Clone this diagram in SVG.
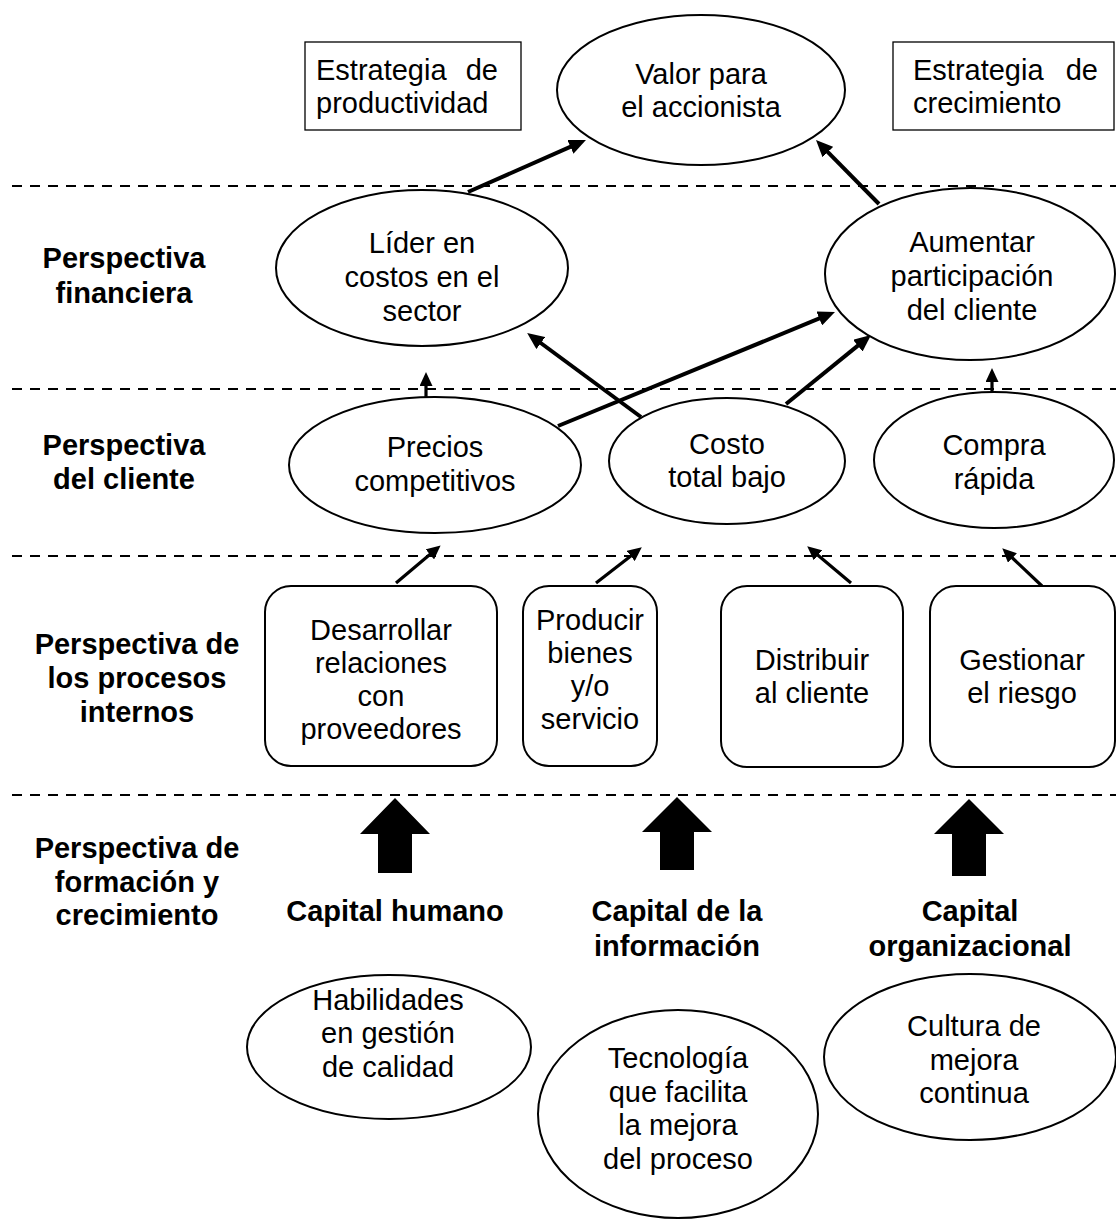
<svg xmlns="http://www.w3.org/2000/svg" width="1116" height="1220" viewBox="0 0 1116 1220">
<style>
text{font-family:"Liberation Sans",Arial,sans-serif;font-size:29px;fill:#000;text-anchor:middle}
.b{font-weight:bold}
.l{text-anchor:start}
.node{fill:#fff;stroke:#000;stroke-width:2}
.box{fill:#fff;stroke:#000;stroke-width:1.3}
.dash{stroke:#000;stroke-width:2.2;stroke-dasharray:10 8;fill:none}
.arr{stroke:#000;stroke-width:4;fill:none;marker-end:url(#ah)}
.sarr{stroke:#000;stroke-width:3.2;fill:none;marker-end:url(#sh)}
.blk{fill:#000;stroke:none}
</style>
<defs>
<marker id="ah" markerUnits="userSpaceOnUse" markerWidth="17" markerHeight="15" viewBox="0 0 17 15" refX="6" refY="7.5" orient="auto"><path d="M0,0 L17,7.5 L0,15 z" fill="#000"/></marker>
<marker id="sh" markerUnits="userSpaceOnUse" markerWidth="14" markerHeight="13" viewBox="0 0 14 13" refX="5" refY="6.5" orient="auto"><path d="M0,0 L14,6.5 L0,13 z" fill="#000"/></marker>
</defs>
<rect width="1116" height="1220" fill="#fff"/>
<g id="separators">
<line class="dash" x1="12" y1="186" x2="1116" y2="186"/>
<line class="dash" x1="12" y1="389" x2="1116" y2="389"/>
<line class="dash" x1="12" y1="556" x2="1116" y2="556"/>
<line class="dash" x1="12" y1="795" x2="1116" y2="795"/>
</g>
<g id="labels">
<text class="b" x="124" y="268">Perspectiva</text>
<text class="b" x="124" y="303">financiera</text>
<text class="b" x="124" y="455">Perspectiva</text>
<text class="b" x="124" y="489">del cliente</text>
<text class="b" x="137" y="654">Perspectiva de</text>
<text class="b" x="137" y="688">los procesos</text>
<text class="b" x="137" y="722">internos</text>
<text class="b" x="137" y="858">Perspectiva de</text>
<text class="b" x="137" y="892">formación y</text>
<text class="b" x="137" y="925">crecimiento</text>
</g>
<g id="connectors">
<line class="arr" x1="468" y1="192" x2="575.9" y2="144.4"/>
<line class="arr" x1="879" y1="204" x2="823.7" y2="147.8"/>
<line class="sarr" x1="426" y1="398" x2="426" y2="381"/>
<line class="arr" x1="558" y1="426" x2="824.8" y2="316.2"/>
<line class="arr" x1="641" y1="417" x2="536" y2="339.5"/>
<line class="arr" x1="786" y1="404" x2="862.5" y2="341.9"/>
<line class="sarr" x1="992" y1="393" x2="992" y2="377"/>
<line class="sarr" x1="396" y1="583" x2="433.7" y2="551.2"/>
<line class="sarr" x1="596" y1="583" x2="634.7" y2="552.9"/>
<line class="sarr" x1="851" y1="583" x2="814.1" y2="552.1"/>
<line class="sarr" x1="1042" y1="586" x2="1008.8" y2="554.5"/>
<polygon class="blk" points="395,798 430,834 412,834 412,873 378,873 378,834 360,834"/>
<polygon class="blk" points="677,797 712,832 694,832 694,870 660,870 660,832 642,832"/>
<polygon class="blk" points="969,799 1004,834 986,834 986,876 952,876 952,834 934,834"/>
</g>
<g id="estrategia-productividad">
<rect class="box" x="305" y="42" width="216" height="88"/>
<text class="l" x="316" y="80" word-spacing="11">Estrategia de</text>
<text class="l" x="316" y="113">productividad</text>
</g>
<g id="valor-accionista">
<ellipse class="node" cx="701" cy="90" rx="144" ry="75"/>
<text x="701" y="84">Valor para</text>
<text x="701" y="117">el accionista</text>
</g>
<g id="estrategia-crecimiento">
<rect class="box" x="893" y="42" width="221" height="88"/>
<text class="l" x="913" y="80" word-spacing="14">Estrategia de</text>
<text class="l" x="913" y="113">crecimiento</text>
</g>
<g id="lider-costos">
<ellipse class="node" cx="422" cy="268" rx="146" ry="78"/>
<text x="422" y="253">Líder en</text>
<text x="422" y="287">costos en el</text>
<text x="422" y="321">sector</text>
</g>
<g id="aumentar-participacion">
<ellipse class="node" cx="970" cy="274" rx="145" ry="86"/>
<text x="972" y="252">Aumentar</text>
<text x="972" y="286">participación</text>
<text x="972" y="320">del cliente</text>
</g>
<g id="precios">
<ellipse class="node" cx="435" cy="465" rx="146" ry="68"/>
<text x="435" y="457">Precios</text>
<text x="435" y="491">competitivos</text>
</g>
<g id="costo">
<ellipse class="node" cx="727" cy="461" rx="118" ry="63"/>
<text x="727" y="454">Costo</text>
<text x="727" y="487">total bajo</text>
</g>
<g id="compra">
<ellipse class="node" cx="994" cy="460" rx="120" ry="68"/>
<text x="994" y="455">Compra</text>
<text x="994" y="489">rápida</text>
</g>
<g id="desarrollar">
<rect class="node" x="265" y="586" width="232" height="180" rx="26"/>
<text x="381" y="640">Desarrollar</text>
<text x="381" y="673">relaciones</text>
<text x="381" y="706">con</text>
<text x="381" y="739">proveedores</text>
</g>
<g id="producir">
<rect class="node" x="523" y="586" width="134" height="180" rx="26"/>
<text x="590" y="630">Producir</text>
<text x="590" y="663">bienes</text>
<text x="590" y="696">y/o</text>
<text x="590" y="729">servicio</text>
</g>
<g id="distribuir">
<rect class="node" x="721" y="586" width="182" height="181" rx="26"/>
<text x="812" y="670">Distribuir</text>
<text x="812" y="703">al cliente</text>
</g>
<g id="gestionar">
<rect class="node" x="930" y="586" width="185" height="181" rx="26"/>
<text x="1022" y="670">Gestionar</text>
<text x="1022" y="703">el riesgo</text>
</g>
<g id="capital-humano">
<text class="b" x="395" y="921">Capital humano</text>
</g>
<g id="capital-informacion">
<text class="b" x="677" y="921">Capital de la</text>
<text class="b" x="677" y="956">información</text>
</g>
<g id="capital-organizacional">
<text class="b" x="970" y="921">Capital</text>
<text class="b" x="970" y="956">organizacional</text>
</g>
<g id="habilidades">
<ellipse class="node" cx="389" cy="1047" rx="142" ry="72"/>
<text x="388" y="1010">Habilidades</text>
<text x="388" y="1043">en gestión</text>
<text x="388" y="1077">de calidad</text>
</g>
<g id="tecnologia">
<ellipse class="node" cx="678" cy="1114" rx="140" ry="104"/>
<text x="678" y="1068">Tecnología</text>
<text x="678" y="1102">que facilita</text>
<text x="678" y="1135">la mejora</text>
<text x="678" y="1169">del proceso</text>
</g>
<g id="cultura">
<ellipse class="node" cx="970" cy="1057" rx="146" ry="83"/>
<text x="974" y="1036">Cultura de</text>
<text x="974" y="1070">mejora</text>
<text x="974" y="1103">continua</text>
</g>
</svg>
